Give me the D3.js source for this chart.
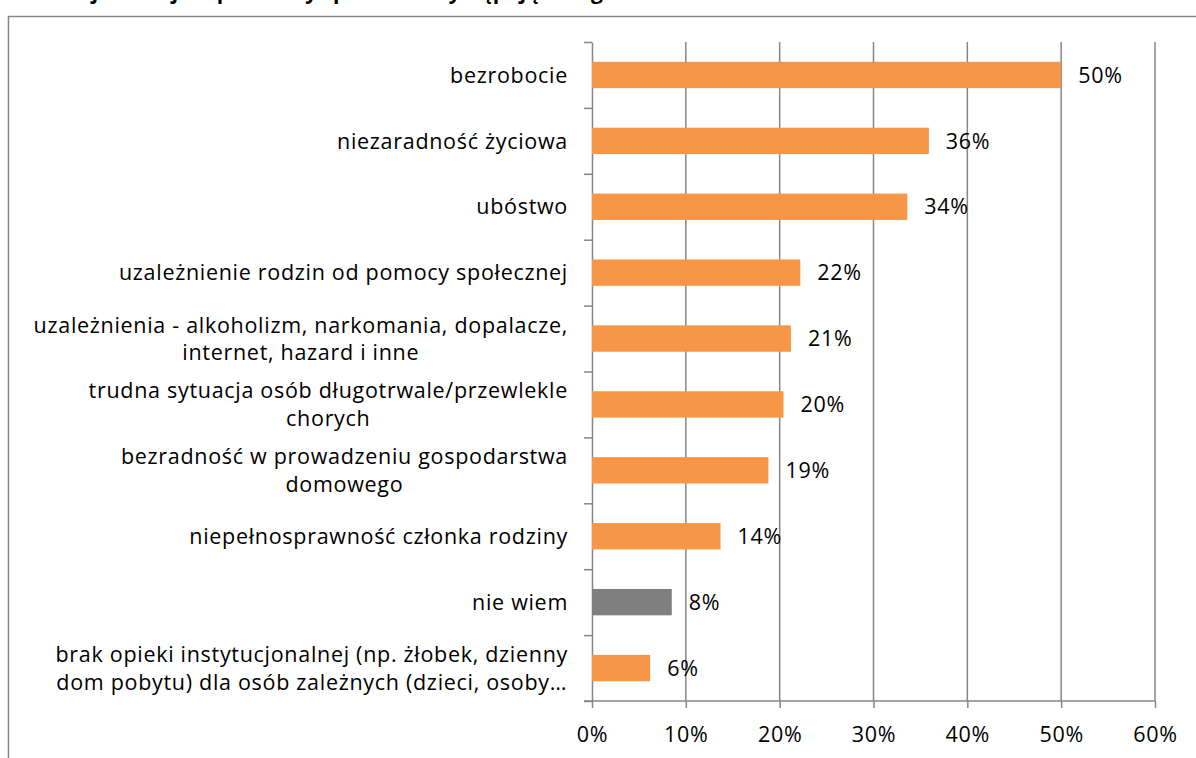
<!DOCTYPE html>
<html>
<head>
<meta charset="utf-8">
<script src="https://cdn.jsdelivr.net/npm/d3@7"></script>
<style>
  body { margin: 0; background: #fff; }
  text { font-family: "Open Sans", sans-serif; fill: #000; }
</style>
</head>
<body>
<script>
// categories, top to bottom, with the line breaks seen in the chart
var categories = [
    "bezrobocie",
    "niezaradność życiowa",
    "ubóstwo",
    "uzależnienie rodzin od pomocy społecznej",
    "uzależnienia - alkoholizm, narkomania, dopalacze, internet, hazard i inne",
    "trudna sytuacja osób długotrwale/przewlekle chorych",
    "bezradność w prowadzeniu gospodarstwa domowego",
    "niepełnosprawność członka rodziny",
    "nie wiem",
    "brak opieki instytucjonalnej (np. żłobek, dzienny dom pobytu) dla osób zależnych (dzieci, osoby…"
];

var labelLines = [
    ["bezrobocie"],
    ["niezaradność życiowa"],
    ["ubóstwo"],
    ["uzależnienie rodzin od pomocy społecznej"],
    ["uzależnienia - alkoholizm, narkomania, dopalacze,", "internet, hazard i inne"],
    ["trudna sytuacja osób długotrwale/przewlekle", "chorych"],
    ["bezradność w prowadzeniu gospodarstwa", "domowego"],
    ["niepełnosprawność członka rodziny"],
    ["nie wiem"],
    ["brak opieki instytucjonalnej (np. żłobek, dzienny", "dom pobytu) dla osób zależnych (dzieci, osoby…"]
];

var values = [50.0, 35.9, 33.6, 22.2, 21.2, 20.4, 18.8, 13.7, 8.5, 6.2];
var valueLabels = ["50%", "36%", "34%", "22%", "21%", "20%", "19%", "14%", "8%", "6%"];

var xTicks = [0, 10, 20, 30, 40, 50, 60];

var title = "Najważniejsze problemy społeczne występujące w gminie";

var width = 1196, height = 758;
var plotLeft = 592, plotRight = 1155, plotTop = 42, plotBottom = 701;

var orange = "#f79646", grey = "#7f7f7f", lineColor = "#868686";
var fontSize = 21.5, spacing = 0.7;

var svg = d3.select("body").append("svg")
    .attr("width", width)
    .attr("height", height);

// title, mostly cut off by the top of the picture
svg.append("text")
    .attr("x", 62)
    .attr("y", -1)
    .attr("font-size", 21)
    .attr("font-weight", "bold")
    .text(title);

// chart border (runs off the right and bottom)
svg.append("rect")
    .attr("x", 8.5)
    .attr("y", 16.5)
    .attr("width", 1300)
    .attr("height", 900)
    .attr("fill", "none")
    .attr("stroke", lineColor)
    .attr("stroke-width", 1.5);

var x = d3.scaleLinear().domain([0, 60]).range([plotLeft, plotRight]);
var y = d3.scaleBand().domain(categories).range([plotTop, plotBottom])
    .paddingInner(0.6).paddingOuter(0.3);

// vertical gridlines
svg.append("g")
    .selectAll("line")
    .data(xTicks.slice(1))
    .join("line")
    .attr("x1", function(d){ return x(d); })
    .attr("x2", function(d){ return x(d); })
    .attr("y1", plotTop)
    .attr("y2", plotBottom)
    .attr("stroke", lineColor)
    .attr("stroke-width", 1.5);

// x axis
var xAxis = svg.append("g")
    .attr("transform", "translate(0," + plotBottom + ")")
    .call(d3.axisBottom(x).tickValues(xTicks).tickSize(7).tickSizeOuter(0)
        .tickFormat(function(d){ return d + "%"; }));
xAxis.select(".domain").remove();
xAxis.selectAll("line").attr("stroke", lineColor).attr("stroke-width", 1.5);
xAxis.selectAll("text")
    .attr("font-family", "Open Sans")
    .attr("font-size", fontSize)
    .attr("letter-spacing", spacing)
    .attr("fill", "#000")
    .attr("y", 26)
    .attr("dy", "0.71em");
svg.append("line")
    .attr("x1", plotLeft - 8).attr("x2", plotRight)
    .attr("y1", plotBottom).attr("y2", plotBottom)
    .attr("stroke", lineColor).attr("stroke-width", 1.5);

// y axis: ticks sit on the category boundaries
var yb = d3.scaleLinear().domain([0, categories.length]).range([plotTop, plotBottom]);
var yAxis = svg.append("g")
    .attr("transform", "translate(" + plotLeft + ",0)")
    .call(d3.axisLeft(yb).ticks(categories.length).tickSize(8).tickSizeOuter(0)
        .tickFormat(""));
yAxis.select(".domain").attr("stroke", lineColor).attr("stroke-width", 1.5);
yAxis.selectAll("line").attr("stroke", lineColor).attr("stroke-width", 1.5);

// bars
svg.append("g")
    .selectAll("rect")
    .data(values)
    .join("rect")
    .attr("x", x(0))
    .attr("y", function(d, i){ return y(categories[i]); })
    .attr("width", function(d){ return x(d) - x(0); })
    .attr("height", y.bandwidth())
    .attr("fill", function(d, i){ return categories[i] == "nie wiem" ? grey : orange; });

// value labels
svg.append("g")
    .selectAll("text")
    .data(values)
    .join("text")
    .attr("x", function(d){ return x(d) + 17; })
    .attr("y", function(d, i){ return y(categories[i]) + y.bandwidth() / 2; })
    .attr("dy", "0.36em")
    .attr("font-size", fontSize)
    .attr("letter-spacing", spacing)
    .text(function(d, i){ return valueLabels[i]; });

// category labels: lines centred on each other, block right-aligned
var lineHeight = 27.5;
var labelRight = 568;
labelLines.forEach(function(lines, i){
    var cy = y(categories[i]) + y.bandwidth() / 2;
    var g = svg.append("g");
    var texts = lines.map(function(line, j){
        return g.append("text")
            .attr("y", cy + (j - (lines.length - 1) / 2) * lineHeight)
            .attr("dy", "0.36em")
            .attr("font-size", fontSize)
            .attr("letter-spacing", spacing)
            .attr("text-anchor", "middle")
            .text(line);
    });
    var w = d3.max(texts, function(t){ return t.node().getComputedTextLength(); });
    texts.forEach(function(t){ t.attr("x", labelRight - w / 2); });
});
</script>
</body>
</html>
